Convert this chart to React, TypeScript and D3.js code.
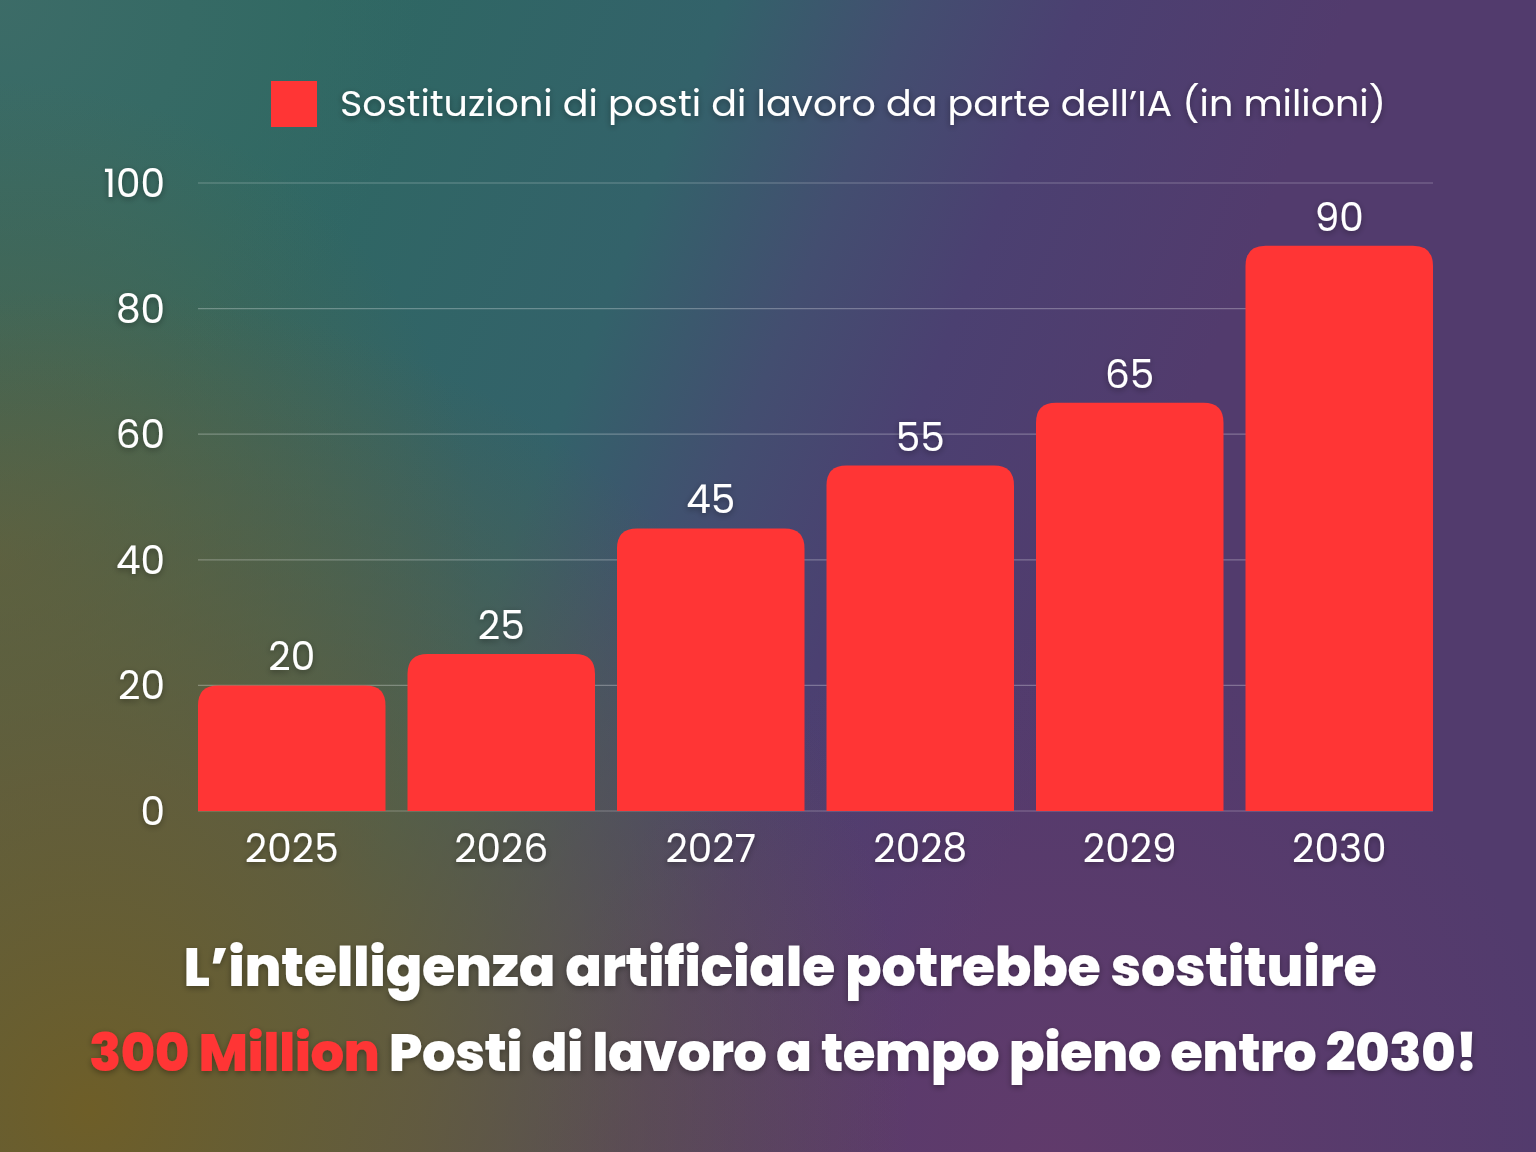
import { useMemo } from 'react';
import * as d3 from 'd3';

// Data
const years = ['2025', '2026', '2027', '2028', '2029', '2030'];
const replacements = [20, 25, 45, 55, 65, 90];
const yTicks = [0, 20, 40, 60, 80, 100];

const legendLabel = 'Sostituzioni di posti di lavoro da parte dell\u2019IA (in milioni)';
const titleLine1 = 'L\u2019intelligenza artificiale potrebbe sostituire';
const titleHighlight = '300 Million';
const titleLine2 = 'Posti di lavoro a tempo pieno entro 2030!';

const W = 1536;
const H = 1152;
const margin = { top: 183, right: 103, bottom: 341, left: 198 };
const BAR = '#ff3535';
const FONT = "Poppins, Inter, 'Open Sans', sans-serif";

// bar path, only the top corners are rounded
function topRoundedBar(x: number, y: number, w: number, h: number, r: number) {
  const rr = Math.min(r, h, w / 2);
  return `M${x},${y + h}V${y + rr}Q${x},${y} ${x + rr},${y}H${x + w - rr}Q${x + w},${y} ${x + w},${y + rr}V${y + h}Z`;
}

export default function App() {
  const innerW = W - margin.left - margin.right;
  const innerH = H - margin.top - margin.bottom;

  const x = useMemo(
    () => d3.scaleBand<string>().domain(years).range([0, innerW]).paddingInner(0.105).paddingOuter(0),
    [innerW]
  );
  const y = useMemo(() => d3.scaleLinear().domain([0, 100]).range([innerH, 0]), [innerH]);

  const labelStyle = {
    fill: '#fff',
    fontFamily: FONT,
    fontSize: 39,
  } as const;

  return (
    <div style={{ position: 'absolute', left: 0, top: 0, width: W, height: H }}>
      <svg width={W} height={H} style={{ display: 'block' }}>
        <defs>
          <linearGradient id="bgBase" x1="250" y1="150" x2="1150" y2="510" gradientUnits="userSpaceOnUse">
            <stop offset="0%" stopColor="#2e6862" />
            <stop offset="40%" stopColor="#33626a" />
            <stop offset="58%" stopColor="#434e70" />
            <stop offset="74%" stopColor="#4b4071" />
            <stop offset="100%" stopColor="#523b6d" />
          </linearGradient>
          <radialGradient id="topLeft" cx="0" cy="0" r="420" gradientUnits="userSpaceOnUse">
            <stop offset="0%" stopColor="#3e6c68" stopOpacity="0.9" />
            <stop offset="100%" stopColor="#3e6c68" stopOpacity="0" />
          </radialGradient>
          <radialGradient id="leftGreen" cx="0" cy="560" r="480" gradientUnits="userSpaceOnUse">
            <stop offset="0%" stopColor="#556448" stopOpacity="0.95" />
            <stop offset="100%" stopColor="#556448" stopOpacity="0" />
          </radialGradient>
          <radialGradient id="olive" cx="90" cy="1110" r="820" gradientUnits="userSpaceOnUse">
            <stop offset="0%" stopColor="#6e5e28" stopOpacity="1" />
            <stop offset="40%" stopColor="#6a5c34" stopOpacity="0.8" />
            <stop offset="100%" stopColor="#6a5c34" stopOpacity="0" />
          </radialGradient>
          <radialGradient id="plum" cx="1050" cy="1152" r="520" gradientUnits="userSpaceOnUse">
            <stop offset="0%" stopColor="#663a6a" stopOpacity="0.7" />
            <stop offset="100%" stopColor="#663a6a" stopOpacity="0" />
          </radialGradient>
          <filter id="shadow" x="-10%" y="-30%" width="120%" height="160%">
            <feDropShadow dx="0" dy="2" stdDeviation="3" floodColor="#000" floodOpacity="0.35" />
          </filter>
        </defs>

        {/* background */}
        <rect width={W} height={H} fill="url(#bgBase)" />
        <rect width={W} height={H} fill="url(#topLeft)" />
        <rect width={W} height={H} fill="url(#leftGreen)" />
        <rect width={W} height={H} fill="url(#plum)" />
        <rect width={W} height={H} fill="url(#olive)" />

        {/* legend */}
        <rect x={271} y={81} width={46} height={46} fill={BAR} />
        <text
          x={340}
          y={116}
          fill="#fff"
          fontFamily={FONT}
          fontSize={36}
          textLength={1046}
          lengthAdjust="spacingAndGlyphs"
          filter="url(#shadow)"
        >
          {legendLabel}
        </text>

        <g transform={`translate(${margin.left},${margin.top})`}>
          {/* grid */}
          {yTicks.map(t => (
            <line
              key={t}
              x1={0}
              x2={innerW}
              y1={y(t)}
              y2={y(t)}
              stroke="#ffffff"
              strokeOpacity={0.28}
              strokeWidth={1.2}
            />
          ))}

          {/* y ticks */}
          {yTicks.map(t => (
            <text key={t} x={-33} y={y(t) + 14} textAnchor="end" style={labelStyle} filter="url(#shadow)">
              {t}
            </text>
          ))}

          {/* bars */}
          {years.map((yr, i) => {
            const bx = x(yr) ?? 0;
            const by = y(replacements[i]);
            return (
              <path key={yr} d={topRoundedBar(bx, by, x.bandwidth(), innerH - by, 20)} fill={BAR} />
            );
          })}

          {/* value labels */}
          {years.map((yr, i) => (
            <text
              key={yr}
              x={(x(yr) ?? 0) + x.bandwidth() / 2}
              y={y(replacements[i]) - 15}
              textAnchor="middle"
              style={labelStyle}
              filter="url(#shadow)"
            >
              {replacements[i]}
            </text>
          ))}

          {/* x labels */}
          {years.map(yr => (
            <text
              key={yr}
              x={(x(yr) ?? 0) + x.bandwidth() / 2}
              y={innerH + 51}
              textAnchor="middle"
              style={labelStyle}
              filter="url(#shadow)"
            >
              {yr}
            </text>
          ))}
        </g>

        {/* headline */}
        <text
          x={780}
          y={986}
          textAnchor="middle"
          fill="#fff"
          fontFamily={FONT}
          fontWeight={800}
          fontSize={54}
          letterSpacing={-0.3}
          filter="url(#shadow)"
        >
          {titleLine1}
        </text>
        <text
          x={783}
          y={1071}
          textAnchor="middle"
          fontFamily={FONT}
          fontWeight={800}
          fontSize={53}
          letterSpacing={-0.6}
          filter="url(#shadow)"
        >
          <tspan fill={BAR}>{titleHighlight}</tspan>
          <tspan fill="#fff">{' ' + titleLine2}</tspan>
        </text>
      </svg>
    </div>
  );
}
